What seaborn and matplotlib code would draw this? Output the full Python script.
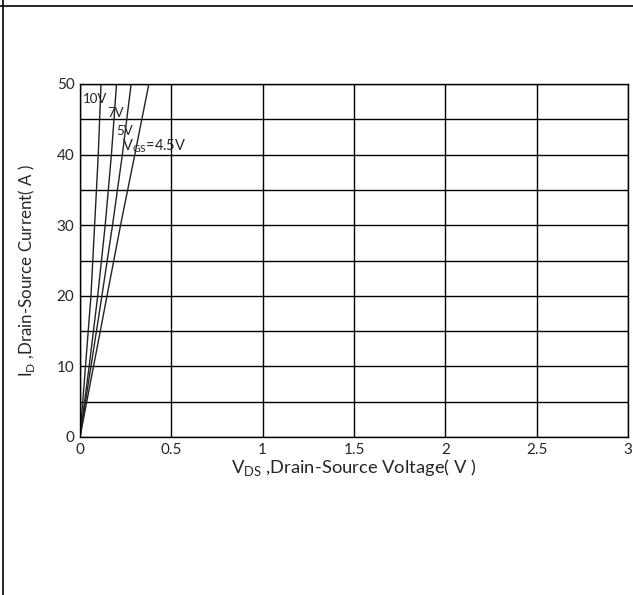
import numpy as np
import pandas as pd
import matplotlib
matplotlib.use("Agg")
import matplotlib.pyplot as plt
import seaborn as sns

# output characteristics
id_points = [0, 10, 20, 30, 40, 50]
vds_10v = [0, 0.03, 0.06, 0.08, 0.10, 0.115]
vds_7v = [0, 0.05, 0.097, 0.138, 0.172, 0.20]
vds_5v = [0, 0.06, 0.12, 0.178, 0.232, 0.28]
vds_45v = [0, 0.074, 0.148, 0.222, 0.30, 0.377]
curve_names = ["10V", "7V", "5V", "4.5V"]

frames = []
for name, vds in zip(curve_names, [vds_10v, vds_7v, vds_5v, vds_45v]):
    frames.append(pd.DataFrame({"vds": vds, "id": id_points, "vgs": name}))
df = pd.concat(frames, ignore_index=True)

sns.set_style("white")
plt.rcParams['font.family'] = ['Lato', 'DejaVu Sans']

fig = plt.figure(figsize=(6.33, 5.95), dpi=100)
ax = fig.add_axes([80 / 633, 158 / 595, 548 / 633, 353 / 595])

sns.lineplot(data=df, x="vds", y="id", units="vgs", estimator=None, sort=False,
             color="#222222", linewidth=1.0, ax=ax)

ax.set_xlim(0, 3)
ax.set_ylim(0, 50)
ax.set_xticks(np.arange(0, 3.01, 0.5))
ax.set_xticklabels(["0", "0.5", "1", "1.5", "2", "2.5", "3"])
ax.set_yticks(np.arange(0, 51, 10))
ax.set_yticks(np.arange(5, 50, 10), minor=True)
ax.grid(True, which="both", color="black", linewidth=1.0)
ax.tick_params(which="both", length=0, labelsize=11, pad=4)
for s in ax.spines.values():
    s.set_color("black")
    s.set_linewidth(1.0)

ax.set_xlabel(r"V$_{\mathregular{DS}}$ ,Drain-Source Voltage( V )", fontsize=13.2, labelpad=0)
ax.set_ylabel(r"I$_{\mathregular{D}}$ ,Drain-Source Current( A )", fontsize=12.2)
ax.yaxis.set_label_coords(-0.078, 0.47)

ax.text(0.016, 47.9, "10V", fontsize=9.5, va="center")
ax.text(0.148, 45.9, "7V", fontsize=9.5, va="center")
ax.text(0.197, 43.3, "5V", fontsize=9.5, va="center")
ax.text(0.232, 41.2, r"V$_{\mathregular{GS}}$=4.5V", fontsize=10.5, va="center")

# page border lines
fig.add_artist(plt.Line2D([0, 1], [1 - 6 / 595, 1 - 6 / 595], color="black", linewidth=1.2))
fig.add_artist(plt.Line2D([2.5 / 633, 2.5 / 633], [0, 1], color="black", linewidth=1.2))

fig.savefig("out.png", dpi=100)
